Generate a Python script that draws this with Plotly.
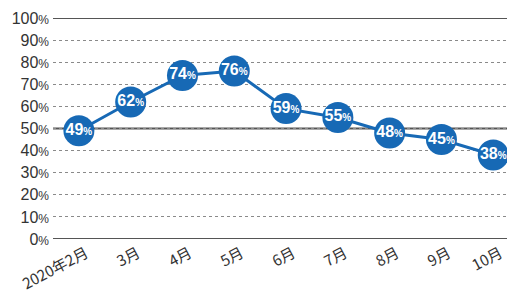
import plotly.graph_objects as go

months = ["2020年2月", "3月", "4月", "5月", "6月", "7月", "8月", "9月", "10月"]
values = [49, 62, 74, 76, 59, 55, 48, 45, 38]
y_ticks = [0, 10, 20, 30, 40, 50, 60, 70, 80, 90, 100]
major_lines = [0, 50, 100]

BLUE = "#1769b5"
FONT = "Noto Sans CJK JP, Noto Sans, sans-serif"

labels = [f"<b>{v}<span style='font-size:10px'>%</span></b>" for v in values]

fig = go.Figure()
fig.add_trace(go.Scatter(
    x=months, y=values, mode="lines+markers+text",
    line=dict(color=BLUE, width=3),
    marker=dict(size=31, color=BLUE),
    text=labels, textposition="middle center",
    textfont=dict(color="white", size=16, family="Arial, Liberation Sans, sans-serif"),
    cliponaxis=False, showlegend=False,
))

for v in major_lines:
    fig.add_shape(type="line", xref="paper", x0=0, x1=1, yref="y", y0=v, y1=v,
                  line=dict(color="#555555", width=2), layer="below")

# the page body adds an 8px margin, so the figure is sized to fit the window
fig.update_layout(
    width=507, height=285,
    margin=dict(l=45, r=0, t=10, b=54),
    paper_bgcolor="white", plot_bgcolor="white",
    font=dict(family=FONT, color="#333333", size=14),
)
fig.update_xaxes(
    type="category", range=[-0.5, 8.42], automargin=False,
    showgrid=False, showline=False, zeroline=False,
    tickangle=-28, tickfont=dict(size=15, color="#333333"), ticks="",
    ticklabelshift=7, ticklabelstandoff=2,
)
fig.update_yaxes(
    range=[0, 100], tickvals=y_ticks, automargin=False,
    ticktext=[f"{v}<span style='font-size:12px'>%</span>" for v in y_ticks],
    showgrid=True, gridcolor="#8a8a8a", griddash="dot", gridwidth=1,
    zeroline=False, showline=False, ticks="", ticklabelstandoff=3,
    tickfont=dict(size=16, color="#333333", family="Liberation Sans, Arial, sans-serif"),
)

fig.write_html("out.html")
